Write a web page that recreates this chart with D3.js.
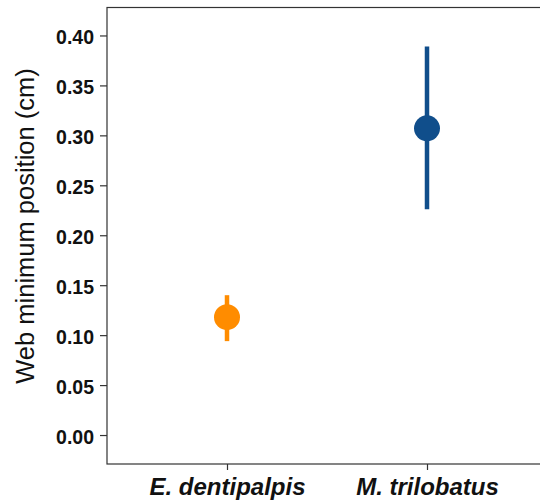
<!DOCTYPE html>
<html>
<head>
<meta charset="utf-8">
<script src="https://cdn.jsdelivr.net/npm/d3@7"></script>
<style>
  html, body { margin: 0; padding: 0; background: #fff; }
  svg { display: block; }
</style>
</head>
<body>
<svg id="chart" width="540" height="502"></svg>
<script>
const categories = ["E. dentipalpis", "M. trilobatus"];
const means = [0.118, 0.307];
const lowers = [0.094, 0.226];
const uppers = [0.140, 0.389];
const colors = ["#FF8C00", "#104E8B"];
const yTicks = [0.00, 0.05, 0.10, 0.15, 0.20, 0.25, 0.30, 0.35, 0.40];
const yTitle = "Web minimum position (cm)";

(function () {
const svg = d3.select("#chart");
const pLeft = 107, pRight = 547, pTop = 7.5, pBottom = 464;

const x = d3.scalePoint().domain(categories).range([pLeft, pRight]).padding(0.6);
const y = d3.scaleLinear().domain([-0.029, 0.428]).range([pBottom, pTop]);

const axisColor = "#333333";

// panel border
svg.append("rect")
  .attr("x", pLeft).attr("y", pTop)
  .attr("width", pRight - pLeft).attr("height", pBottom - pTop)
  .attr("fill", "none").attr("stroke", axisColor).attr("stroke-width", 1.2);

// y axis
const yAxis = d3.axisLeft(y).tickValues(yTicks).tickFormat(d3.format(".2f")).tickSize(7).tickPadding(6);
const gy = svg.append("g").attr("transform", `translate(${pLeft},0)`).call(yAxis);
gy.select(".domain").remove();
gy.selectAll(".tick line").attr("stroke", axisColor).attr("stroke-width", 1.2);
gy.selectAll(".tick text")
  .attr("fill", "#111")
  .style("font-family", "'Liberation Sans', Arial, Helvetica, sans-serif")
  .style("font-weight", "bold")
  .style("font-size", "19.5px")
  .attr("dy", "0.42em");

// x axis
const xAxis = d3.axisBottom(x).tickSize(6).tickPadding(8);
const gx = svg.append("g").attr("transform", `translate(0,${pBottom})`).call(xAxis);
gx.select(".domain").remove();
gx.selectAll(".tick line").attr("stroke", axisColor).attr("stroke-width", 1.2);
gx.selectAll(".tick text")
  .attr("fill", "#111")
  .style("font-family", "'Liberation Sans', Arial, Helvetica, sans-serif")
  .style("font-weight", "bold")
  .style("font-style", "italic")
  .style("font-size", "24px")
  .attr("dy", "0.72em");

// y title
svg.append("text")
  .attr("transform", `translate(34,226) rotate(-90)`)
  .attr("text-anchor", "middle")
  .attr("fill", "#111")
  .style("font-family", "'Liberation Sans', Arial, Helvetica, sans-serif")
  .style("font-size", "25.5px")
  .text(yTitle);

// error bars and points
const data = categories.map((c, i) => ({ c, m: means[i], lo: lowers[i], hi: uppers[i], col: colors[i] }));
const g = svg.append("g");
g.selectAll("line.err").data(data).enter().append("line")
  .attr("class", "err")
  .attr("x1", d => x(d.c)).attr("x2", d => x(d.c))
  .attr("y1", d => y(d.lo)).attr("y2", d => y(d.hi))
  .attr("stroke", d => d.col).attr("stroke-width", 4.5);
g.selectAll("circle").data(data).enter().append("circle")
  .attr("cx", d => x(d.c)).attr("cy", d => y(d.m)).attr("r", 13)
  .attr("fill", d => d.col);
})();
</script>
</body>
</html>
